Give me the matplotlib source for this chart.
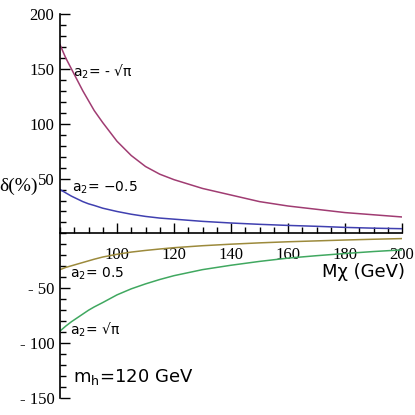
import matplotlib
matplotlib.use('Agg')
import matplotlib.pyplot as plt
from matplotlib.ticker import MultipleLocator, FixedLocator

# Values (delta in %, vs M_chi in GeV)
m_chi = [80, 82, 84, 86, 88, 90, 92, 95, 100, 105, 110, 115, 120,
         130, 140, 150, 160, 170, 180, 190, 200]
d_minus_sqrtpi = [172, 160, 150, 140, 130, 121, 112, 101, 84, 71, 61, 54, 49,
                  41, 35, 29, 25, 22, 19, 17, 15]
d_minus_half = [40, 37, 34, 31.5, 29, 27, 25.5, 23, 20, 17.5, 15.5, 14, 13,
                11, 9.5, 8.3, 7.3, 6.5, 5.5, 4.8, 4.3]
d_plus_half = [-33, -31, -29.5, -28, -26.5, -25, -23.5, -21.5, -19, -17, -15.5, -14.2, -13,
               -11.2, -9.8, -8.6, -7.6, -6.8, -6, -5.3, -4.7]
d_plus_sqrtpi = [-89, -84.5, -80.5, -77, -73.5, -70, -67, -63, -56, -50.5, -46, -42, -38.5,
                 -33, -29, -25.5, -22.5, -20.3, -18.3, -16.5, -15]

y_ticks = [-150, -100, -50, 50, 100, 150, 200]
y_tick_labels = ['- 150', '- 100', '- 50', '50', '100', '150', '200']
x_ticks = [100, 120, 140, 160, 180, 200]

colors = ['#a03c72', '#4040b0', '#9c8a3c', '#40a860']

fig = plt.figure(figsize=(4.15, 4.15), dpi=100)
ax = fig.add_axes([60 / 415, 17 / 415, 342 / 415, 384 / 415])

for vals, c in zip([d_minus_sqrtpi, d_minus_half, d_plus_half, d_plus_sqrtpi], colors):
    ax.plot(m_chi, vals, color=c, lw=1.1)

ax.set_xlim(80, 200)
ax.set_ylim(-150, 200)

ax.spines['top'].set_visible(False)
ax.spines['right'].set_visible(False)
ax.spines['bottom'].set_position(('data', 0))
ax.spines['left'].set_linewidth(1.2)
ax.spines['bottom'].set_linewidth(1.2)

ax.yaxis.set_major_locator(FixedLocator(y_ticks))
ax.set_yticklabels(y_tick_labels)
ax.yaxis.set_minor_locator(MultipleLocator(10))
ax.xaxis.set_major_locator(FixedLocator(x_ticks))
ax.xaxis.set_minor_locator(MultipleLocator(5))

ax.tick_params(which='both', direction='in', width=1)
ax.tick_params(which='major', length=7)
ax.tick_params(which='minor', length=4)
ax.tick_params(axis='x', pad=10, labelsize=12)
ax.tick_params(axis='y', pad=4, labelsize=12)
for lab in ax.get_xticklabels() + ax.get_yticklabels():
    lab.set_family('Liberation Serif')

# y label sits left of the axis, a little under the "50" tick
ax.text(-0.12, 0.55, r'δ(%)', transform=ax.transAxes, fontsize=14,
        family='Liberation Serif', ha='center', va='center')
ax.text(201, -27, 'Mχ (GeV)', fontsize=13, family='DejaVu Sans',
        ha='right', va='top', clip_on=False)

fs = 10
ax.text(84.6, 147, r'$\mathregular{a_2}$= - √π', fontsize=fs, va='center')
ax.text(84.2, 42, r'$\mathregular{a_2}$= −0.5', fontsize=fs, va='center')
ax.text(83.5, -37, r'$\mathregular{a_2}$= 0.5', fontsize=fs, va='center')
ax.text(83.5, -88, r'$\mathregular{a_2}$= √π', fontsize=fs, va='center')
ax.text(84.6, -131, r'$\mathregular{m_h}$=120 GeV', fontsize=13, va='center')

fig.savefig('out.png', dpi=100)
